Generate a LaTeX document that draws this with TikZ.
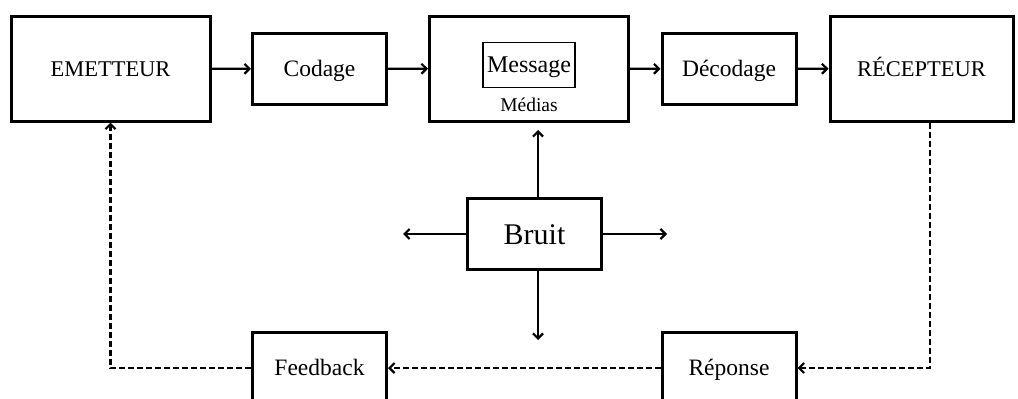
\documentclass[tikz,border=0pt]{standalone}
\usepackage{fontspec}
\setmainfont{Liberation Serif}
\usetikzlibrary{arrows.meta,positioning}

\begin{document}
\begin{tikzpicture}[x=1pt, y=-1pt,
  box/.style={draw, line width=3pt, inner sep=0pt, text height=20pt, text depth=5pt,
    font=\fontsize{23.5}{27}\selectfont},
  bigbox/.style={box, minimum width=199pt, minimum height=105pt},
  smallbox/.style={box, minimum width=134pt, minimum height=71pt},
  flow/.style={line width=2.2pt, -{Straight Barb[length=5pt,width=10pt]}},
  back/.style={flow, dash pattern=on 6pt off 3pt},
]
\useasboundingbox (0,0) rectangle (1018,399);
\clip (0,0) rectangle (1018,399);

% chaine du haut
\node[bigbox, font=\fontsize{22.5}{26}\selectfont] (emet) at (110.5,68.5) {EMETTEUR};
\node[smallbox] (cod) at (319.5,69) {Codage};
\node[bigbox] (med) at (529,68.5) {};
\node[draw, line width=1.3pt, minimum width=92pt, minimum height=45pt, inner sep=0pt,
  text height=20pt, text depth=5pt, font=\fontsize{24}{27}\selectfont] (msg) at (529,65) {Message};
\node[font=\fontsize{19.5}{22}\selectfont] (medias) at (529,105) {Médias};
\node[smallbox] (dec) at (729,69) {Décodage};
\node[box, minimum width=183pt, minimum height=105pt, font=\fontsize{22.5}{26}\selectfont] (rec) at (921.5,68.5) {RÉCEPTEUR};

\draw[flow] (emet) -- (cod);
\draw[flow] (cod) -- (med);
\draw[flow] (med) -- (dec);
\draw[flow] (dec) -- (rec);

% bruit
\node[smallbox, text height=26pt, text depth=6pt, font=\fontsize{30}{33}\selectfont] (bruit) at (534.5,234) {Bruit};
\coordinate (bup) at (538,130);
\coordinate (bleft) at (403,234);
\coordinate (bright) at (667,234);
\coordinate (bdown) at (538,340);
\draw[flow] (bruit.north -| bup) -- (bup);
\draw[flow] (bruit.west) -- (bleft);
\draw[flow] (bruit.east) -- (bright);
\draw[flow] (bruit.south -| bdown) -- (bdown);

% retour
\node[smallbox] (feed) at (319.5,368) {Feedback};
\node[smallbox] (rep) at (729,368) {Réponse};
\coordinate (recout) at (930,123);
\draw[back] (recout) |- (rep.east);
\draw[back] (rep.west) -- (feed.east);
\draw[back] (feed.west) -| (emet.south);
\end{tikzpicture}
\end{document}
